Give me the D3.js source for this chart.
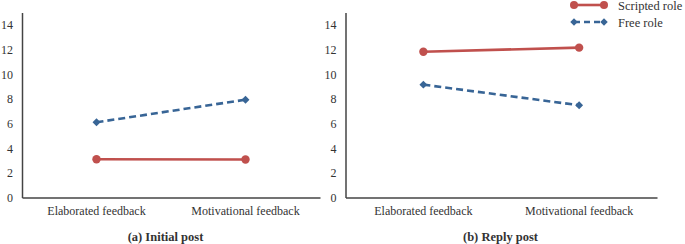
<!DOCTYPE html>
<html><head><meta charset="utf-8">
<script src="https://cdn.jsdelivr.net/npm/d3@7"></script>
<style>body{margin:0;background:#fff}svg{display:block}text{font-family:"Liberation Serif","Times New Roman",serif;fill:#333}</style>
</head><body><svg id="c" width="685" height="244"></svg>
<script>
const categories = ["Elaborated feedback", "Motivational feedback"];
const yTicks = [0, 2, 4, 6, 8, 10, 12, 14];
const panelTitles = ["(a) Initial post", "(b) Reply post"];
const seriesNames = ["Scripted role", "Free role"];
const scriptedInitial = [3.1, 3.08];
const freeInitial = [6.1, 7.93];
const scriptedReply = [11.82, 12.15];
const freeReply = [9.15, 7.48];

const panels = [
  {title: panelTitles[0], scripted: scriptedInitial, free: freeInitial, x0: 22, x1: 320, tx: 165.5},
  {title: panelTitles[1], scripted: scriptedReply, free: freeReply, x0: 345.5, x1: 657, tx: 500.5}
];
const red = "#C0504D", blue = "#386596";
const svg = d3.select("#c");
const y = d3.scaleLinear().domain([0, 15]).range([197.5, 12.5]);
const serif = "'Liberation Serif','Times New Roman',serif";

panels.forEach(p => {
  const g = svg.append("g");
  const x = d3.scaleBand().domain(categories).range([p.x0, p.x1]);
  const cx = c => x(c) + x.bandwidth() / 2;
  const ya = g.append("g").attr("transform", `translate(${p.x0},0)`)
    .call(d3.axisLeft(y).tickValues(yTicks).tickSize(0).tickPadding(9).tickFormat(d3.format("d")));
  ya.attr("font-family", serif);
  ya.select(".domain").attr("stroke", "#444").attr("stroke-width", 1.5);
  ya.selectAll("text").attr("font-size", 12).attr("fill", "#333");
  const xa = g.append("g").attr("transform", `translate(0,${y(0)})`)
    .call(d3.axisBottom(x).tickSize(0).tickPadding(9));
  xa.attr("font-family", serif);
  xa.select(".domain").attr("stroke", "#444").attr("stroke-width", 1.5);
  xa.selectAll("text").attr("font-size", 12).attr("fill", "#333");
  const line = vals => d3.line().x((d, i) => cx(categories[i])).y(d => y(d))(vals);
  g.append("path").attr("d", line(p.free)).attr("fill", "none").attr("stroke", blue)
    .attr("stroke-width", 2.6).attr("stroke-dasharray", "7,4");
  g.append("path").attr("d", line(p.scripted)).attr("fill", "none").attr("stroke", red)
    .attr("stroke-width", 2.6);
  p.free.forEach((v, i) => {
    g.append("path").attr("d", d3.symbol(d3.symbolDiamond2, 40)())
      .attr("transform", `translate(${cx(categories[i])},${y(v)})`).attr("fill", blue);
  });
  p.scripted.forEach((v, i) => {
    g.append("circle").attr("cx", cx(categories[i])).attr("cy", y(v)).attr("r", 4.2).attr("fill", red);
  });
  g.append("text").attr("x", p.tx).attr("y", 241).attr("text-anchor", "middle")
    .attr("font-size", 12.5).attr("font-weight", "bold").attr("fill", "#222").text(p.title);
});

const lg = svg.append("g");
const lx0 = 574, lx1 = 604;
[[seriesNames[0], red, null, 5], [seriesNames[1], blue, "6,4", 22]].forEach(([name, col, dash, ly], k) => {
  lg.append("line").attr("x1", lx0).attr("x2", lx1).attr("y1", ly).attr("y2", ly)
    .attr("stroke", col).attr("stroke-width", 2.6).attr("stroke-dasharray", dash);
  [lx0, lx1].forEach(px => {
    if (k === 0) lg.append("circle").attr("cx", px).attr("cy", ly).attr("r", 4).attr("fill", col);
    else lg.append("path").attr("d", d3.symbol(d3.symbolDiamond2, 36)()).attr("transform", `translate(${px},${ly})`).attr("fill", col);
  });
  lg.append("text").attr("x", 618).attr("y", ly + 5).attr("font-size", 12.5).attr("fill", "#333").text(name);
});
</script></body></html>
